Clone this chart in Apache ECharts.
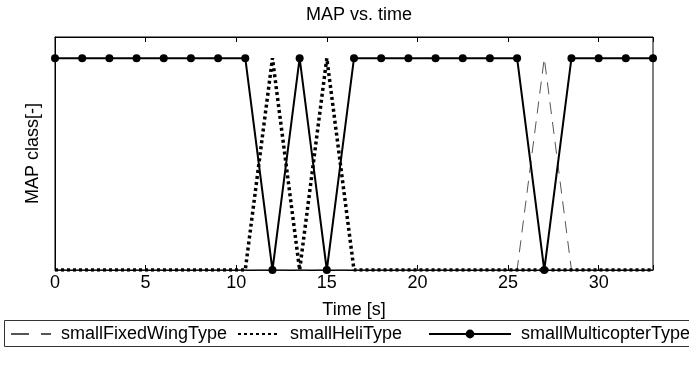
<!DOCTYPE html>
<html>
<head>
<meta charset="utf-8">
<script src="https://cdn.jsdelivr.net/npm/echarts@6/dist/echarts.min.js"></script>
<style>
  html, body { margin: 0; padding: 0; background: #fff; }
  #chart { width: 689px; height: 374px; }
</style>
</head>
<body>
<div id="chart"></div>
<script>
// sample times, every 1.5 s
const times = [0, 1.5, 3, 4.5, 6, 7.5, 9, 10.5, 12, 13.5, 15, 16.5, 18, 19.5, 21, 22.5, 24, 25.5, 27, 28.5, 30, 31.5, 33]
const fixedWing = [0, 0, 0, 0, 0, 0, 0, 0, 0, 0, 0, 0, 0, 0, 0, 0, 0, 0, 1, 0, 0, 0, 0]
const heli = [0, 0, 0, 0, 0, 0, 0, 0, 1, 0, 1, 0, 0, 0, 0, 0, 0, 0, 0, 0, 0, 0, 0]
const multicopter = [1, 1, 1, 1, 1, 1, 1, 1, 0, 1, 0, 1, 1, 1, 1, 1, 1, 1, 0, 1, 1, 1, 1]
const xTicks = [0, 5, 10, 15, 20, 25, 30]

const pairs = vals => times.map((t, i) => [t, vals[i]])
const font = 'Liberation Sans'
const fs = 18
const txt = { fontFamily: font, fontSize: fs, color: '#000' }

// one legend per entry so each can sit where the original puts it
const legendAt = (name, left, width, height, hideSymbol, dash) => ({
  left: left,
  top: 320,
  height: 16,
  padding: [5, 0],
  itemWidth: width,
  itemHeight: height,
  itemStyle: hideSymbol ? { opacity: 0 } : {},
  lineStyle: dash ? { type: dash } : {},
  textStyle: { ...txt, padding: [0, 0, 0, 5] },
  data: [name]
})

const myChart = echarts.init(document.getElementById('chart'))
myChart.setOption({
  animation: false,
  title: {
    text: 'MAP vs. time',
    left: 354,
    textAlign: 'center',
    top: 1,
    textStyle: { ...txt, fontWeight: 'normal' }
  },
  grid: {
    left: 55,
    right: 36,
    top: 37,
    bottom: 104,
    show: true,
    borderColor: '#000',
    borderWidth: 1
  },
  graphic: [
    {
      type: 'rect',
      left: 4,
      top: 320,
      shape: { width: 720, height: 26 },
      style: { fill: '#fff', stroke: '#333', lineWidth: 1 },
      z: -1
    }
  ],
  legend: [
    legendAt('smallFixedWingType', 10, 40, 16, true, [18, 12]),
    legendAt('smallHeliType', 237, 42, 16, true),
    legendAt('smallMulticopterType', 428, 82, 11, false)
  ],
  xAxis: [
    {
      type: 'value',
      min: 0,
      max: 33,
      interval: 5,
      name: 'Time [s]',
      nameLocation: 'middle',
      nameGap: 31,
      nameTextStyle: txt,
      axisLine: { lineStyle: { color: '#000' } },
      axisTick: { inside: true, length: 5, lineStyle: { color: '#000' } },
      axisLabel: {
        ...txt,
        margin: 4,
        formatter: v => (xTicks.includes(v) ? String(v) : '')
      },
      splitLine: { show: false }
    },
    {
      type: 'value',
      position: 'top',
      min: 0,
      max: 33,
      interval: 5,
      axisLine: { lineStyle: { color: '#000' } },
      axisTick: { inside: true, length: 5, lineStyle: { color: '#000' } },
      axisLabel: { show: false },
      splitLine: { show: false }
    }
  ],
  yAxis: {
    type: 'value',
    min: 0,
    max: 1.1,
    name: 'MAP class[-]',
    nameLocation: 'middle',
    nameGap: 13,
    nameTextStyle: txt,
    axisLine: { show: true, lineStyle: { color: '#000' } },
    axisTick: { show: false },
    axisLabel: { show: false },
    splitLine: { show: false }
  },
  series: [
    {
      name: 'smallFixedWingType',
      type: 'line',
      data: pairs(fixedWing),
      symbol: 'none',
      lineStyle: { color: '#555', width: 1, type: [12, 8] },
      itemStyle: { color: '#555' },
      z: 2
    },
    {
      name: 'smallHeliType',
      type: 'line',
      data: pairs(heli),
      symbol: 'none',
      lineStyle: { color: '#000', width: 3.5, type: [3, 3] },
      itemStyle: { color: '#000' },
      z: 3
    },
    {
      name: 'smallMulticopterType',
      type: 'line',
      data: pairs(multicopter),
      symbol: 'circle',
      symbolSize: 8,
      lineStyle: { color: '#000', width: 2 },
      itemStyle: { color: '#000' },
      z: 4
    }
  ]
})
window.addEventListener('resize', () => myChart.resize())
</script>
</body>
</html>
